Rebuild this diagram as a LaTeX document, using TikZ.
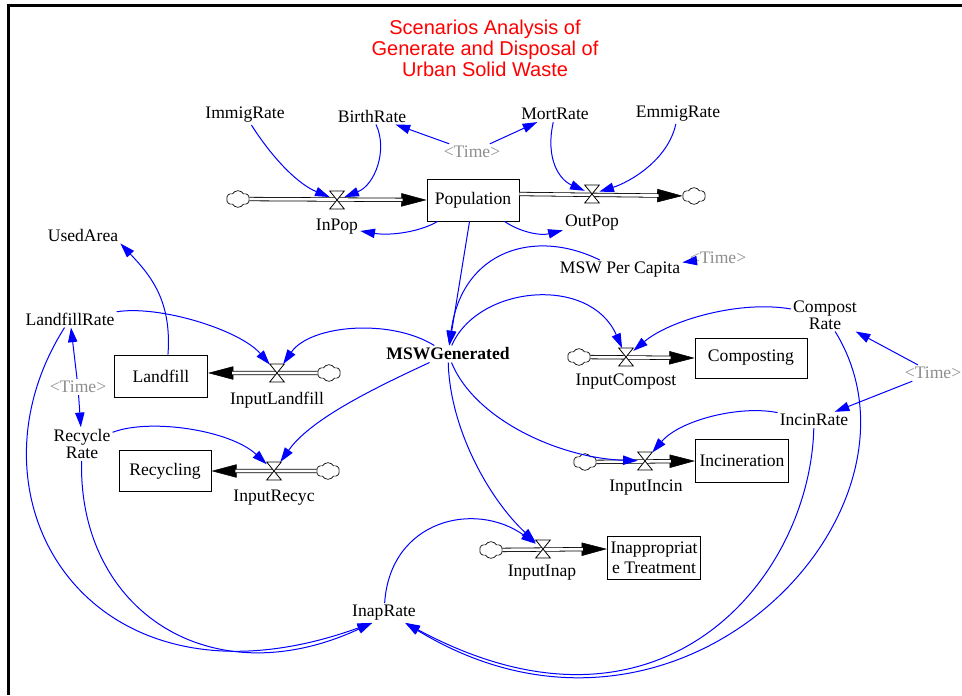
\documentclass[tikz,border=0pt]{standalone}
\usepackage{fontspec}
\setmainfont{Liberation Serif}
\newfontfamily\titlefont{Liberation Sans}
\usepackage{xcolor}
\definecolor{vsBlue}{HTML}{0000FF}
\definecolor{vsRed}{HTML}{FF0000}
\definecolor{vsGray}{HTML}{8E8E8E}
\usepackage{tikz}
\usetikzlibrary{arrows.meta,shapes.symbols}
\newcommand\vsfont{\fontsize{13.2}{15}\selectfont}

\tikzset{
  var/.style={inner sep=1.5pt, font=\vsfont},
  shadow/.style={var, text=vsGray},
  stock/.style={draw, line width=0.6pt, minimum height=31.5pt, inner sep=1.5pt, font=\vsfont},
  valve/.style={minimum width=10.5pt, minimum height=13pt, inner sep=0pt},
  sink/.style={cloud, cloud puffs=6, cloud puff arc=120, cloud ignores aspect, draw, fill=white,
    line width=0.5pt, minimum width=17pt, minimum height=12.5pt, inner sep=0pt},
  pipe/.style={draw=black, double=white, line width=0.6pt, double distance=2pt},
  flowtip/.style={-{Triangle[length=19pt,width=10pt]}, line width=0.4pt},
  link/.style={vsBlue, line width=0.75pt, -{Triangle[length=11pt,width=7pt]}},
  title/.style={text=vsRed, align=center, font=\titlefont\fontsize{15}{15.75}\selectfont}
}

\begin{document}
\begin{tikzpicture}[x=0.75pt, y=-0.75pt]
  \useasboundingbox (0,0) rectangle (962,695);
  \draw[line width=1.6pt] (962,5.5) -- (8.5,5.5) -- (8.5,695);
  \node[title] (title) at (485,48) {Scenarios Analysis of\\Generate and Disposal of\\Urban Solid Waste};
  % ------- population: stock, flows and their rates -------
  \node[stock, minimum width=69pt] (pop) at (473,200) {Population};
  \node[var] (immig) at (245,115) {ImmigRate};
  \node[var] (birth) at (372,116) {BirthRate};
  \node[var] (mort) at (555,114) {MortRate};
  \node[var] (emmig) at (678,114) {EmmigRate};
  \node[shadow] (timeA) at (472,152) {<Time>};
  \node[valve] (vIn) at (337,200) {};
  \node[valve] (vOut) at (592,194) {};
  \node[sink] (cIn) at (238,199) {};
  \node[sink] (cOut) at (694,196) {};
  \node[var] (inpop) at (337,227) {InPop};
  \node[var] (outpop) at (592,223) {OutPop};
  % ------- waste generated -------
  \node[var, font=\bfseries\vsfont] (msw) at (448,354) {MSWGenerated};
  \node[var] (mswpc) at (620,270) {MSW Per Capita};
  \node[shadow] (timeB) at (718,258) {<Time>};
  % ------- left: landfill and recycling -------
  \node[var] (usedarea) at (83,235) {UsedArea};
  \node[var] (landrate) at (70,319) {LandfillRate};
  \node[shadow] (timeC) at (78,387) {<Time>};
  \node[var, align=center, font=\fontsize{13.2}{11.25}\selectfont] (recrate) at (82,444) {Recycle\\Rate};
  \node[stock, minimum width=70pt] (landfill) at (161,376) {Landfill};
  \node[valve] (vLand) at (277,373) {};
  \node[sink] (cLand) at (329,373) {};
  \node[var] (inland) at (277,400) {InputLandfill};
  \node[stock, minimum width=69pt, minimum height=31pt] (recycling) at (165,471) {Recycling};
  \node[valve] (vRec) at (274,471) {};
  \node[sink] (cRec) at (328,471) {};
  \node[var] (inrec) at (274,498) {InputRecyc};
  % ------- right: composting, incineration, inappropriate treatment -------
  \node[stock, minimum width=84pt, minimum height=30pt] (composting) at (751,358) {Composting};
  \node[valve] (vComp) at (626,357) {};
  \node[sink] (cComp) at (579,357) {};
  \node[var] (incomp) at (626,382) {InputCompost};
  \node[var, align=center, font=\fontsize{13.2}{9.5}\selectfont] (comprate) at (825,315) {Compost\\Rate};
  \node[shadow] (timeD) at (933,373) {<Time>};
  \node[var] (incinrate) at (814,420) {IncinRate};
  \node[stock, minimum width=70pt, minimum height=32pt] (incineration) at (742,461) {Incineration};
  \node[valve] (vInc) at (645,461) {};
  \node[sink] (cInc) at (585,462) {};
  \node[var] (ininc) at (646,488) {InputIncin};
  \node[stock, minimum width=70pt, minimum height=32pt, align=center] (inap) at (654,558) {Inappropriat\\e Treatment};
  \node[valve] (vInap) at (543,549) {};
  \node[sink] (cInap) at (491,550) {};
  \node[var] (ininap) at (542,573) {InputInap};
  \node[var] (inaprate) at (384,613) {InapRate};
  % ------- pipes and valves -------
  \foreach \a/\b in {cIn/pop.west, {pop.east |- vOut}/cOut, cLand/{landfill.east |- vLand},
      cRec/recycling.east, cComp/composting.west, cInc/incineration.west, cInap/{inap.west |- vInap}} {
    \draw[flowtip] (\a) -- (\b);
    \draw[pipe, shorten >=18pt] (\a) -- (\b);
  }
  \foreach \v in {vIn,vOut,vLand,vRec,vComp,vInc,vInap}
    \filldraw[fill=white, line width=0.6pt] (\v.north west) -- (\v.north east) -- (\v.south west) -- (\v.south east) -- cycle;
  % ------- links -------
  \draw[link] (immig) .. controls (275,162) and (300,185) .. (vIn);
  \draw[link] (birth) .. controls (388,150) and (375,185) .. (vIn);
  \draw[link] (mort) .. controls (545,160) and (560,180) .. (vOut);
  \draw[link] (emmig) .. controls (668,160) and (630,182) .. (vOut);
  \draw[link] (timeA) -- (birth);
  \draw[link] (timeA) -- (mort);
  \draw[link] (pop) .. controls (420,232) and (390,236) .. (inpop);
  \draw[link] (pop) .. controls (520,232) and (540,236) .. (outpop);
  \draw[link] (pop) -- (msw);
  \draw[link] (timeB) -- (mswpc);
  \draw[link] (mswpc) .. controls (535,228) and (462,250) .. (msw);
  \draw[link] (msw) .. controls (478,285) and (590,275) .. (vComp);
  \draw[link] (msw) .. controls (390,318) and (310,325) .. (vLand);
  \draw[link] (msw) .. controls (370,390) and (310,420) .. (vRec);
  \draw[link] (msw) .. controls (475,420) and (560,458) .. (vInc);
  \draw[link] (msw) .. controls (450,430) and (490,500) .. (vInap);
  \draw[link] (landfill.72) .. controls (172,300) and (150,275) .. (usedarea.south east);
  \draw[link] (landrate) .. controls (160,305) and (240,330) .. (vLand);
  \draw[link] (timeC) -- (landrate);
  \draw[link] (timeC) -- (recrate);
  \draw[link] (recrate) .. controls (150,418) and (230,430) .. (vRec);
  \draw[link] (landrate) .. controls (-45,500) and (90,725) .. (inaprate.-140);
  \draw[link] (recrate) .. controls (78,610) and (210,698) .. (inaprate.-140);
  \draw[link] (comprate) .. controls (740,300) and (670,320) .. (vComp);
  \draw[link] (timeD) -- (comprate);
  \draw[link] (timeD) -- (incinrate);
  \draw[link] (incinrate) .. controls (740,405) and (680,420) .. (vInc);
  \draw[link] (comprate) .. controls (945,510) and (680,790) .. (inaprate.-25);
  \draw[link] (incinrate) .. controls (810,580) and (660,760) .. (inaprate.-25);
  \draw[link] (inaprate) .. controls (390,520) and (475,500) .. (vInap);
\end{tikzpicture}
\end{document}
